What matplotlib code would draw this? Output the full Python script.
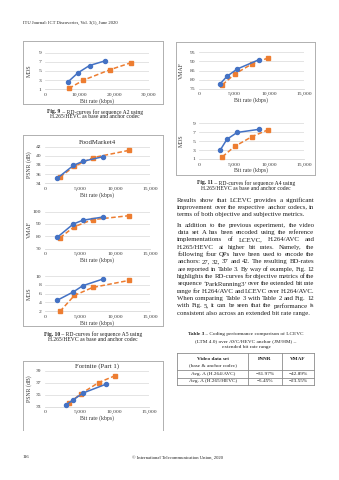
import matplotlib
matplotlib.use('Agg')
import matplotlib.pyplot as plt
from matplotlib.lines import Line2D

# ---------------- data ----------------
fig9_lcevc_rate = [6600, 9500, 12850, 17250]
fig9_lcevc_mos = [2.6, 4.6, 6.2, 7.2]
fig9_anchor_rate = [6900, 11100, 18800, 24800]
fig9_anchor_mos = [1.2, 3.0, 5.3, 6.8]

fig10_lcevc_rate = [1750, 4050, 5400, 8250]
fig10_lcevc_psnr = [35.1, 37.9, 38.8, 39.8]
fig10_lcevc_vmaf = [79.1, 89.9, 92.9, 95.5]
fig10_lcevc_mos = [4.5, 6.4, 7.8, 9.3]
fig10_anchor_rate = [2150, 4200, 6800, 12000]
fig10_anchor_psnr = [35.4, 37.7, 39.6, 41.2]
fig10_anchor_vmaf = [78.8, 87.7, 93.4, 96.6]
fig10_anchor_mos = [2.0, 5.6, 7.4, 9.0]

fig11_lcevc_rate = [3000, 4000, 5450, 8600]
fig11_lcevc_vmaf = [77.6, 81.8, 85.8, 91.0]
fig11_lcevc_mos = [2.9, 5.4, 6.9, 7.6]
fig11_anchor_rate = [3350, 5100, 7600, 9900]
fig11_anchor_vmaf = [77.2, 83.0, 88.7, 91.9]
fig11_anchor_mos = [1.5, 3.8, 6.0, 7.5]

fig12_lcevc_rate = [3100, 4050, 5500, 8750]
fig12_lcevc_psnr = [33.3, 34.1, 35.25, 36.7]
fig12_anchor_rate = [3500, 5150, 7750, 10050]
fig12_anchor_psnr = [33.6, 35.1, 37.0, 38.1]

table_header = ["Video data set", "PSNR", "VMAF"]
table_rows = [["Avg. A (H.264/AVC)", "\u221231.97%", "\u221242.89%"],
              ["Avg. A (H.265/HEVC)", "\u22125.45%", "\u221223.55%"]]

para1 = ["Results show that LCEVC provides a significant",
         "improvement over the respective anchor codecs, in",
         "terms of both objective and subjective metrics."]
para2 = ["In addition to the previous experiment, the video",
         "data set A has been encoded using the reference",
         "implementations of LCEVC, H.264/AVC and",
         "H.265/HEVC at higher bit rates. Namely, the",
         "following four QPs have been used to encode the",
         "anchors: 27, 32, 37 and 42. The resulting BD-rates",
         "are reported in Table 3. By way of example, Fig. 12",
         "highlights the RD-curves for objective metrics of the",
         "sequence \u2018ParkRunning3\u2019 over the extended bit rate",
         "range for H.264/AVC and LCEVC over H.264/AVC.",
         "When comparing Table 3 with Table 2 and Fig. 12",
         "with Fig. 5, it can be seen that the performance is",
         "consistent also across an extended bit rate range."]

# ---------------- page setup ----------------
W, H = 339, 480
fig = plt.figure(figsize=(W / 100, H / 100), dpi=100)
fig.patch.set_facecolor('white')
renderer = fig.canvas.get_renderer()
SERIF = 'Liberation Serif'
BLUE = '#4472C4'
ORANGE = '#ED7D31'
GRID = '#d9d9d9'
FRAME = '#b0b0b0'
TXT = '#1e1e1e'
AXTXT = '#3a3a3a'


def fx(x):
    return x / W


def fy(y):
    return 1 - y / H


def text_width(s, size, **kw):
    t = fig.text(0, 0, s, fontsize=size, family=SERIF, **kw)
    w = t.get_window_extent(renderer).width
    t.remove()
    return w


def fit_size(s, target, **kw):
    return 10 * target / text_width(s, 10, **kw)


def put(x, y, s, size, ha='left', **kw):
    return fig.text(fx(x), fy(y), s, fontsize=size, family=SERIF, ha=ha,
                    va='center', color=kw.pop('color', TXT), **kw)


def justify(line, x0, x1, y, size):
    words = line.split(' ')
    widths = [text_width(w, size) for w in words]
    gap = (x1 - x0 - sum(widths)) / (len(words) - 1)
    x = x0
    for w, wd in zip(words, widths):
        put(x, y, w, size)
        x += wd + gap


def mixed_center(xc, y, parts, size):
    widths = [text_width(s, size, weight=wt) for s, wt in parts]
    x = xc - sum(widths) / 2
    for (s, wt), wd in zip(parts, widths):
        put(x, y, s, size, weight=wt)
        x += wd


def hline(x0, x1, y, color=FRAME, lw=0.7):
    fig.add_artist(Line2D([fx(x0), fx(x1)], [fy(y), fy(y)], color=color, lw=lw))


def vline(x, y0, y1, color=FRAME, lw=0.7):
    fig.add_artist(Line2D([fx(x), fx(x)], [fy(y0), fy(y1)], color=color, lw=lw))


def box(x0, y0, x1, y1, bottom=True):
    hline(x0, x1, y0)
    vline(x0, y0, y1)
    vline(x1, y0, y1)
    if bottom:
        hline(x0, x1, y1)


TICK = fit_size("10,000", 15)
ALAB = fit_size("Bit rate (kbps)", 34)
TITLE = fit_size("FoodMarket4", 37)


def chart(px0, px1, ptop, pbot, xlim, xticks, ylim, yticks, ylabel, ylabx,
          series, xlabel, title=None):
    ax = fig.add_axes([fx(px0), fy(pbot), (px1 - px0) / W, (pbot - ptop) / H])
    ax.set_xlim(xlim)
    ax.set_ylim(ylim)
    ax.set_xticks(xticks)
    ax.set_xticklabels([f"{v:,}" for v in xticks])
    ax.set_yticks(yticks)
    ax.set_yticklabels([str(v) for v in yticks])
    ax.tick_params(length=0, labelsize=TICK, labelcolor=AXTXT, pad=2.6)
    for lab in ax.get_xticklabels() + ax.get_yticklabels():
        lab.set_family(SERIF)
    for s in ['top', 'right', 'left']:
        ax.spines[s].set_visible(False)
    ax.spines['bottom'].set_color(GRID)
    ax.spines['bottom'].set_linewidth(0.6)
    ax.grid(axis='y', color=GRID, lw=0.5)
    ax.set_axisbelow(True)
    ax.patch.set_alpha(0)
    (lr, lv), (ar, av) = series
    ax.plot(ar, av, color=ORANGE, lw=1.1, ls=(0, (3, 1.6)), marker='s', ms=2.5,
            clip_on=False, zorder=3)
    ax.plot(lr, lv, color=BLUE, lw=1.1, marker='o', ms=2.9, clip_on=False, zorder=4)
    put((px0 + px1) / 2, pbot + 11.5, xlabel, ALAB, ha='center', color=AXTXT)
    put(ylabx, (ptop + pbot) / 2, ylabel, ALAB, ha='center', rotation=90,
        color=AXTXT)
    if title:
        put((px0 + px1) / 2, ptop - 4.3, title, TITLE, ha='center', color='#2a2a2a')
    return ax


# ---------------- header / footer ----------------
HDR = fit_size("ITU Journal: ICT Discoveries, Vol. 3(1), June 2020", 94)
put(23, 22.7, "ITU Journal: ICT Discoveries, Vol. 3(1), June 2020", HDR)
FOOT = fit_size("\u00a9 International Telecommunication Union, 2020", 90)
put(23, 457.5, "116", FOOT)
put(132, 457.5, "\u00a9 International Telecommunication Union, 2020", FOOT)

# ---------------- Fig. 9 ----------------
box(23, 41, 163, 104)
chart(45, 149, 52.7, 89.3, (0, 30000), [0, 10000, 20000, 30000], (1, 9),
      [1, 3, 5, 7, 9], "MOS", 29,
      [(fig9_lcevc_rate, fig9_lcevc_mos), (fig9_anchor_rate, fig9_anchor_mos)],
      "Bit rate (kbps)")
CAP = fit_size("Fig. 9 \u2013 RD-curves for sequence A2 using", 95)
mixed_center(95, 111.7, [("Fig. 9", 'bold'), (" \u2013 RD-curves for sequence A2 using", 'normal')], CAP)
put(95, 117, "H.265/HEVC as base and anchor codec", CAP, ha='center')

# ---------------- Fig. 10 ----------------
box(23, 135, 163, 325.7)
chart(45, 150, 146.7, 183.3, (0, 15000), [0, 5000, 10000, 15000], (34, 42),
      [34, 36, 38, 40, 42], "PSNR (dB)", 29,
      [(fig10_lcevc_rate, fig10_lcevc_psnr), (fig10_anchor_rate, fig10_anchor_psnr)],
      "Bit rate (kbps)", title="FoodMarket4")
chart(45, 150, 211.5, 248.5, (0, 15000), [0, 5000, 10000, 15000], (70, 100),
      [70, 80, 90, 100], "VMAF", 29,
      [(fig10_lcevc_rate, fig10_lcevc_vmaf), (fig10_anchor_rate, fig10_anchor_vmaf)],
      "Bit rate (kbps)")
chart(45, 150, 276, 311.3, (0, 15000), [0, 5000, 10000, 15000], (2, 10),
      [2, 4, 6, 8, 10], "MOS", 29,
      [(fig10_lcevc_rate, fig10_lcevc_mos), (fig10_anchor_rate, fig10_anchor_mos)],
      "Bit rate (kbps)")
mixed_center(93, 334.3, [("Fig. 10", 'bold'), (" \u2013 RD-curves for sequence A5 using", 'normal')], CAP)
put(93, 339.7, "H.265/HEVC as base and anchor codec", CAP, ha='center')

# ---------------- Fig. 11 ----------------
box(176, 41.7, 315, 175)
chart(199, 304, 52.3, 88.7, (0, 15000), [0, 5000, 10000, 15000], (75, 95),
      [75, 80, 85, 90, 95], "VMAF", 181,
      [(fig11_lcevc_rate, fig11_lcevc_vmaf), (fig11_anchor_rate, fig11_anchor_vmaf)],
      "Bit rate (kbps)")
chart(199, 304, 123, 159, (0, 15000), [0, 5000, 10000, 15000], (1, 9),
      [1, 3, 5, 7, 9], "MOS", 181,
      [(fig11_lcevc_rate, fig11_lcevc_mos), (fig11_anchor_rate, fig11_anchor_mos)],
      "Bit rate (kbps)")
mixed_center(246, 182.7, [("Fig. 11", 'bold'), (" \u2013 RD-curves for sequence A4 using", 'normal')], CAP)
put(246, 188, "H.265/HEVC as base and anchor codec", CAP, ha='center')

# ---------------- Fig. 12 (partial) ----------------
box(23, 361, 163, 430, bottom=False)
chart(45, 149, 370.5, 406.5, (0, 15000), [0, 5000, 10000, 15000], (33, 39),
      [33, 35, 37, 39], "PSNR (dB)", 29,
      [(fig12_lcevc_rate, fig12_lcevc_psnr), (fig12_anchor_rate, fig12_anchor_psnr)],
      "Bit rate (kbps)", title="Fortnite (Part 1)")

# ---------------- body text ----------------
BODY = fit_size(para2[-1], 131)
X0, X1 = 177.3, 314.3
LS = 7.33
for i, line in enumerate(para1):
    y = 200 + i * LS
    if i < len(para1) - 1:
        justify(line, X0, X1, y, BODY)
    else:
        put(X0, y, line, BODY)
for i, line in enumerate(para2):
    y = 225.3 + i * LS
    if i < len(para2) - 1:
        justify(line, X0, X1, y, BODY)
    else:
        put(X0, y, line, BODY)

# ---------------- Table 3 ----------------
TCAP = fit_size("Table 3 \u2013 Coding performance comparison of LCEVC", 115)
mixed_center(246, 334.3, [("Table 3", 'bold'), (" \u2013 Coding performance comparison of LCEVC", 'normal')], TCAP)
put(246, 341.2, "(LTM 4.0) over AVC/HEVC anchor (JM/HM) \u2013", TCAP, ha='center')
put(246, 347.3, "extended bit rate range", TCAP, ha='center')

tx = [177.3, 248.3, 281.7, 314.3]
ty = [353.3, 370, 377.7, 385]
for y in ty:
    hline(tx[0], tx[-1], y, color='#8c8c8c', lw=0.6)
for x in tx:
    vline(x, ty[0], ty[-1], color='#8c8c8c', lw=0.6)
TB = TCAP
cx = [(tx[0] + tx[1]) / 2, (tx[1] + tx[2]) / 2, (tx[2] + tx[3]) / 2]
put(cx[0], 358.8, table_header[0], TB, ha='center', weight='bold')
put(cx[0], 364.7, "(base & anchor codec)", TB, ha='center')
put(cx[1], 358.8, table_header[1], TB, ha='center', weight='bold')
put(cx[2], 358.8, table_header[2], TB, ha='center', weight='bold')
for r, row in enumerate(table_rows):
    yy = (ty[r + 1] + ty[r + 2]) / 2
    for c, val in enumerate(row):
        put(cx[c], yy, val, TB, ha='center')

fig.savefig('out.png', dpi=100, facecolor='white')
